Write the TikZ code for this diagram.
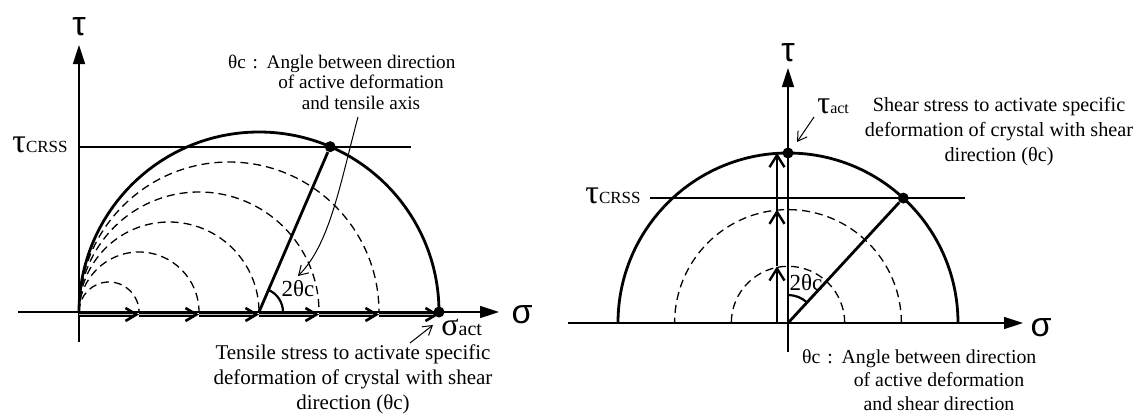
\documentclass[tikz,border=0pt]{standalone}
\usepackage{fontspec}
\setmainfont{Liberation Serif}
\newfontfamily\axisfont{Liberation Sans}
\usetikzlibrary{arrows.meta,calc}

\begin{document}
\begin{tikzpicture}[x=0.5pt,y=0.5pt,
    axis/.style={line width=0.75pt,-{Triangle[length=9.5pt,width=6pt]}},
    plain/.style={line width=0.75pt},
    bold/.style={line width=1.4pt},
    circdash/.style={line width=0.65pt,dash pattern=on 4pt off 2.5pt},
    push/.style={line width=0.8pt,double=black!25,double distance=0.9pt,-{Straight Barb[length=5.5pt,width=6.5pt,line width=1.3pt]}},
    rise/.style={line width=1.1pt,-{Straight Barb[length=6pt,width=7.5pt,line width=1.2pt]}},
    pointer/.style={line width=0.5pt,-{Straight Barb[length=4.5pt,width=5.5pt]}},
    dot/.style={circle,fill,inner sep=0pt,minimum size=5.5pt},
    note/.style={align=center,inner sep=0pt},
    axlbl/.style={font=\axisfont\fontsize{17}{17}\selectfont,inner sep=0pt}]
  \useasboundingbox (0,0) rectangle (1136,414);

  % ---- left: tensile test ----
  \coordinate (O1) at (79,102);
  \coordinate (c1) at (259,102);
  \coordinate (xL1) at (18,102);
  \coordinate (xR1) at (499,102);
  \coordinate (yB1) at (79,72);
  \coordinate (yT1) at (79,369);
  \draw[axis] (xL1) -- (xR1);
  \draw[axis] (yB1) -- (yT1);
  \node[axlbl] (tau1) at (79,387) {τ};
  \node[axlbl] (sig1) at (522,99) {σ};

  % dashed circles through the origin
  \foreach \r in {30,60,90,120,150}
    \draw[circdash] (O1) arc[start angle=180,end angle=0,radius=\r];
  \draw[bold] (O1) arc[start angle=180,end angle=0,radius=180];

  % stress steps along sigma
  \foreach \k in {0,...,6}
    \coordinate (s\k) at ($(O1)+(60*\k,-2.5)$);
  \foreach \k [count=\j] in {0,...,5}
    \draw[push] (s\k) -- (s\j);

  % critical resolved shear stress
  \coordinate (crssA1) at (79,267);
  \coordinate (crssB1) at (411,267);
  \draw[bold] (crssA1) -- (crssB1);
  \node[anchor=base east,inner sep=0pt] (crss1) at (68,262)
    {\fontsize{17}{17}\selectfont τ\fontsize{8.5}{8.5}\selectfont CRSS};
  \node[dot] (crit1) at ($(c1)+(66.7:180)$) {};
  \draw[bold] (c1) -- (crit1);
  \draw[line width=1.1pt] ($(c1)+(24,0)$) arc[start angle=0,end angle=66.7,radius=24];
  \node[font=\fontsize{11.5}{11.5}\selectfont,inner sep=0pt] (twoth1) at (298,125) {2θc};

  \node[dot] (act1) at ($(O1)+(360,0)$) {};
  \node[anchor=base west,inner sep=0pt] (sact) at (441,79)
    {\fontsize{16}{16}\selectfont σ\fontsize{10}{10}\selectfont act};
  \coordinate (sactA) at (410,71);
  \coordinate (sactB) at (433,89);
  \draw[pointer] (sactA) -- (sactB);

  \node[note,font=\fontsize{10.5}{12.5}\selectfont] (tensile) at (353,35)
    {Tensile stress to activate specific\\deformation of crystal with shear\\direction (θc)};
  \node[note,font=\fontsize{9.6}{10.3}\selectfont] (angle1) at (361,332)
    {\llap{θc\hspace{0.35em}:\hspace{0.45em}}Angle between direction\\of active deformation\\and tensile axis};
  \coordinate (curvA) at (358,297);
  \coordinate (curvB) at (298,138);
  \draw[pointer] (curvA) .. controls (340,230) and (330,170) .. (curvB);

  % ---- right: shear test ----
  \coordinate (O2) at (788,91);
  \coordinate (xL2) at (568,91);
  \coordinate (xR2) at (1023,91);
  \coordinate (yB2) at (788,62);
  \coordinate (yT2) at (788,346);
  \draw[axis] (xL2) -- (xR2);
  \draw[axis] (yB2) -- (yT2);
  \node[axlbl] (tau2) at (788,361) {τ};
  \node[axlbl] (sig2) at (1041,86) {σ};

  \foreach \r in {56.7,113.4}
    \draw[circdash] ($(O2)+(\r,0)$) arc[start angle=0,end angle=180,radius=\r];
  \draw[bold] ($(O2)+(170,0)$) arc[start angle=0,end angle=180,radius=170];

  % shear steps along tau
  \foreach \k in {0,...,3}
    \coordinate (t\k) at ($(O2)+(-11,56.7*\k)$);
  \foreach \k [count=\j] in {0,1,2}
    \draw[rise] (t\k) -- (t\j);

  \coordinate (crssA2) at (650,216);
  \coordinate (crssB2) at (965,216);
  \draw[bold] (crssA2) -- (crssB2);
  \node[anchor=base east,inner sep=0pt] (crss2) at (641,211)
    {\fontsize{17}{17}\selectfont τ\fontsize{8.5}{8.5}\selectfont CRSS};
  \node[dot] (crit2) at ($(O2)+(47.3:170)$) {};
  \draw[bold] (O2) -- (crit2);
  \draw[line width=1.1pt] ($(O2)+(0,28)$) arc[start angle=90,end angle=47.3,radius=28];
  \node[font=\fontsize{11.5}{11.5}\selectfont,inner sep=0pt] (twoth2) at (806,131) {2θc};

  \node[dot] (act2) at ($(O2)+(0,170)$) {};
  \node[anchor=base west,inner sep=0pt] (tact) at (817,301)
    {\fontsize{16}{16}\selectfont τ\fontsize{8}{8}\selectfont act};
  \coordinate (tactA) at (814,297);
  \coordinate (tactB) at (797,272);
  \draw[pointer] (tactA) -- (tactB);

  \node[note,font=\fontsize{10.1}{12.5}\selectfont] (shear) at (999,282)
    {Shear stress to activate specific\\deformation of crystal with shear\\direction (θc)};
  \node[note,font=\fontsize{9.9}{11.7}\selectfont] (angle2) at (939,34)
    {\llap{θc\hspace{0.35em}:\hspace{0.45em}}Angle between direction\\of active deformation\\and shear direction};
\end{tikzpicture}
\end{document}
